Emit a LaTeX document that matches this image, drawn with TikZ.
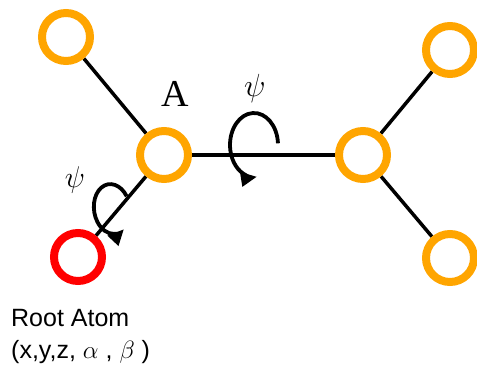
\RequirePackage{fix-cm}
\documentclass[tikz,border=0pt]{standalone}
\usepackage{fontspec}
\setmainfont{Liberation Sans}
\newfontfamily\serifA{Liberation Serif}
\usetikzlibrary{arrows.meta,backgrounds}
\definecolor{atomorange}{HTML}{FFA500}
\definecolor{atomred}{HTML}{FF0000}
\begin{document}
\begin{tikzpicture}[x=1pt,y=1pt,
  atom/.style={circle,draw=atomorange,fill=white,line width=8pt,minimum size=48pt,inner sep=0pt},
  rootatom/.style={atom,draw=atomred},
  bond/.style={line width=3.5pt,black},
  twist/.style={line width=3.8pt,black,-{Triangle[length=16pt,width=14pt]}},
  lbl/.style={inner sep=0pt}]
\useasboundingbox (0,0) rectangle (477,365);
\node[atom] (TL) at (66,328) {};
\node[atom] (A) at (164,210) {};
\node[atom] (B) at (363,210) {};
\node[atom] (TR) at (450,315) {};
\node[atom] (BR) at (450,107) {};
\node[rootatom] (R) at (78,108) {};
\begin{scope}[on background layer]
\draw[bond] (TL) -- (A);
\draw[bond] (A) -- (B);
\draw[bond] (A) -- (R);
\draw[bond] (B) -- (TR);
\draw[bond] (B) -- (BR);
\end{scope}
\draw[twist] ([shift={(3:24pt and 32pt)}]254,220) arc[start angle=3,end angle=277,x radius=24pt,y radius=32pt];
\draw[twist,rotate around={8:(112,156)}] ([shift={(25:18pt and 25pt)}]112,156) arc[start angle=25,end angle=300,x radius=18pt,y radius=25pt];
\node[lbl,font=\fontsize{32}{32}\selectfont] (psitop) at (255,277) {$\psi$};
\node[lbl,font=\fontsize{30}{30}\selectfont] (psileft) at (75,185) {$\psi$};
\node[lbl,font={\serifA\fontsize{38}{38}\selectfont}] (Alab) at (175,271) {A};
\node[lbl,anchor=base west,font=\fontsize{25}{25}\selectfont] (rootlab) at (11,39) {Root Atom};
\node[lbl,anchor=base west,font=\fontsize{25}{25}\selectfont] (rootcoord) at (11,7) {(x,y,z, $\alpha$ , $\beta$ )};
\end{tikzpicture}
\end{document}
